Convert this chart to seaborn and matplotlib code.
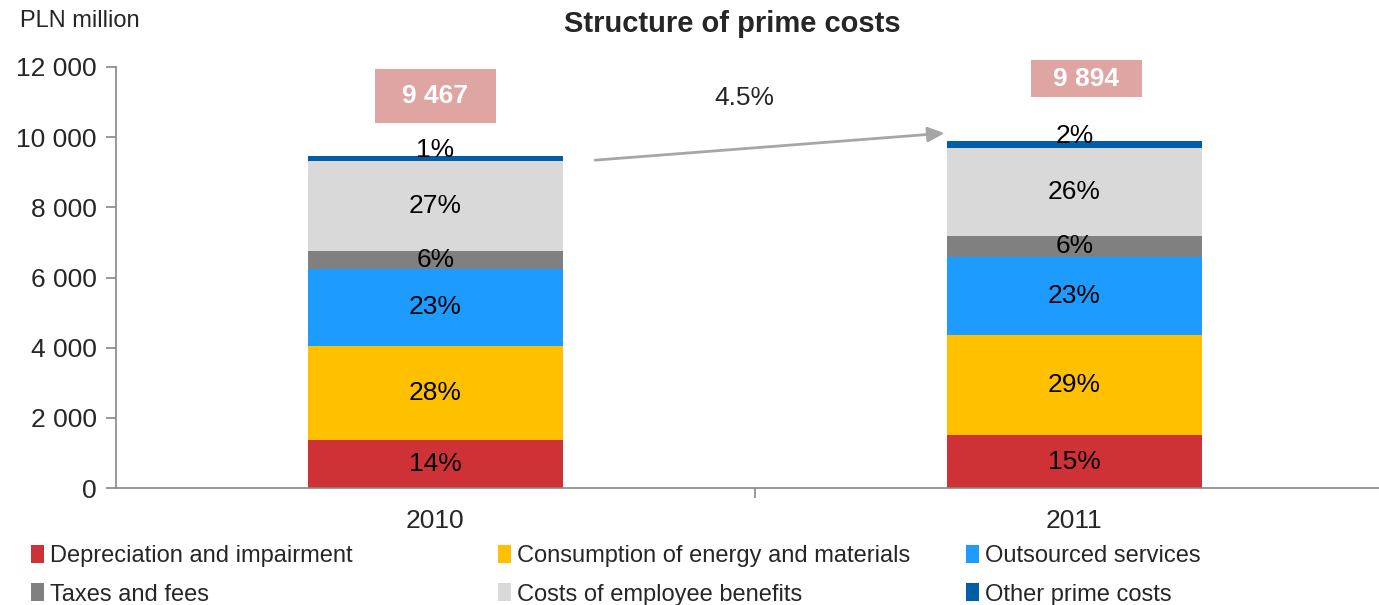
import numpy as np
import pandas as pd
import matplotlib
matplotlib.use("Agg")
import matplotlib.pyplot as plt
import seaborn as sns
from matplotlib.ticker import FuncFormatter
from matplotlib.patches import Patch, Rectangle

# Data (PLN million)
years = ["2010", "2011"]
components = ["Depreciation and impairment", "Consumption of energy and materials",
              "Outsourced services", "Taxes and fees",
              "Costs of employee benefits", "Other prime costs"]
depreciation = [1380, 1500]
energy = [2680, 2870]
outsourced = [2190, 2220]
taxes = [500, 600]
employee = [2580, 2510]
other = [137, 194]
shares = [["14%", "15%"], ["28%", "29%"], ["23%", "23%"],
          ["6%", "6%"], ["27%", "26%"], ["1%", "2%"]]
totals = ["9 467", "9 894"]
growth = "4.5%"

colors = ["#CF3236", "#FFC000", "#1E9BFF", "#808080", "#D9D9D9", "#005DA8"]

df = pd.DataFrame({"year": years,
                   components[0]: depreciation, components[1]: energy,
                   components[2]: outsourced, components[3]: taxes,
                   components[4]: employee, components[5]: other})

sns.set_style("white")
plt.rcParams["font.family"] = ["Liberation Sans", "DejaVu Sans"]

fig = plt.figure(figsize=(13.79, 6.05), dpi=100)
ax = fig.add_axes([116 / 1379, 1 - 488 / 605, 1 - 116 / 1379, (488 - 67) / 605])

bottom = np.zeros(len(years))
for i, comp in enumerate(components):
    vals = df[comp].to_numpy()
    sns.barplot(x=df["year"], y=vals, bottom=bottom, color=colors[i],
                width=0.4, errorbar=None, saturation=1, ax=ax, label=comp,
                edgecolor="none", linewidth=0)
    for j in range(len(years)):
        yc = bottom[j] + vals[j] / 2
        dy = 6 if i == len(components) - 1 else 0
        ax.annotate(shares[i][j], (j, yc), xytext=(0, dy), textcoords="offset points",
                    ha="center", va="center", fontsize=19, color="black")
    bottom = bottom + vals

# totals above bars (boxes drawn separately)
box_x = [0.0, 1.019]
box_w = [0.19, 0.175]
box_lo = [10400, 11140]
box_hi = [11940, 12190]
for j in range(len(years)):
    ax.add_patch(Rectangle((box_x[j] - box_w[j] / 2, box_lo[j]), box_w[j],
                           box_hi[j] - box_lo[j], facecolor="#DFA5A3",
                           edgecolor="none", clip_on=False, zorder=3))
    ax.text(box_x[j], (box_lo[j] + box_hi[j]) / 2, totals[j], ha="center", va="center",
            fontsize=19, fontweight="bold", color="white", zorder=4)

# growth arrow
ax.annotate("", xy=(0.797, 10114), xytext=(0.25, 9345),
            arrowprops=dict(arrowstyle="-|>,head_length=1.0,head_width=0.45",
                            color="#A6A6A6", lw=2, shrinkA=0, shrinkB=0))
ax.text(0.484, 11120, growth, ha="center", va="center", fontsize=19)

ax.set_xlim(-0.5, 1.477)
ax.set_ylim(0, 12000)
ax.set_yticks(np.arange(0, 12001, 2000))
ax.yaxis.set_major_formatter(FuncFormatter(lambda v, p: f"{v:,.0f}".replace(",", " ")))
ax.set_xlabel("")
ax.set_ylabel("")
for s in ["top", "right"]:
    ax.spines[s].set_visible(False)
for s in ["left", "bottom"]:
    ax.spines[s].set_color("#868686")
    ax.spines[s].set_linewidth(1.2)
ax.tick_params(axis="y", direction="out", length=7, color="#868686", width=1.2,
               labelsize=19, pad=7, left=True)
ax.tick_params(axis="x", which="major", length=0, labelsize=19, pad=15)
ax.set_xticks([0.5], minor=True)
ax.tick_params(axis="x", which="minor", direction="out", length=7,
               color="#868686", width=1.2, bottom=True)

fig.text(20 / 1379, 1 - 21 / 605, "PLN million", ha="left", va="center", fontsize=17)
fig.text(0.531, 1 - 24 / 605, "Structure of prime costs", ha="center", va="center",
         fontsize=21, fontweight="bold")

# legend: three columns, two rows
col_x = [31 / 1379, 498 / 1379, 966 / 1379]
for c in range(3):
    idx = [c, c + 3]
    handles = [Patch(facecolor=colors[k], edgecolor="none") for k in idx]
    fig.legend(handles, [components[k] for k in idx], loc="upper left",
               bbox_to_anchor=(col_x[c], 1 - 545 / 605), frameon=False,
               fontsize=17, handlelength=0.55, handleheight=0.8, handletextpad=0.25,
               labelspacing=0.68, borderaxespad=0, borderpad=0)
if ax.get_legend() is not None:
    ax.get_legend().remove()

fig.savefig("out.png", dpi=100)
